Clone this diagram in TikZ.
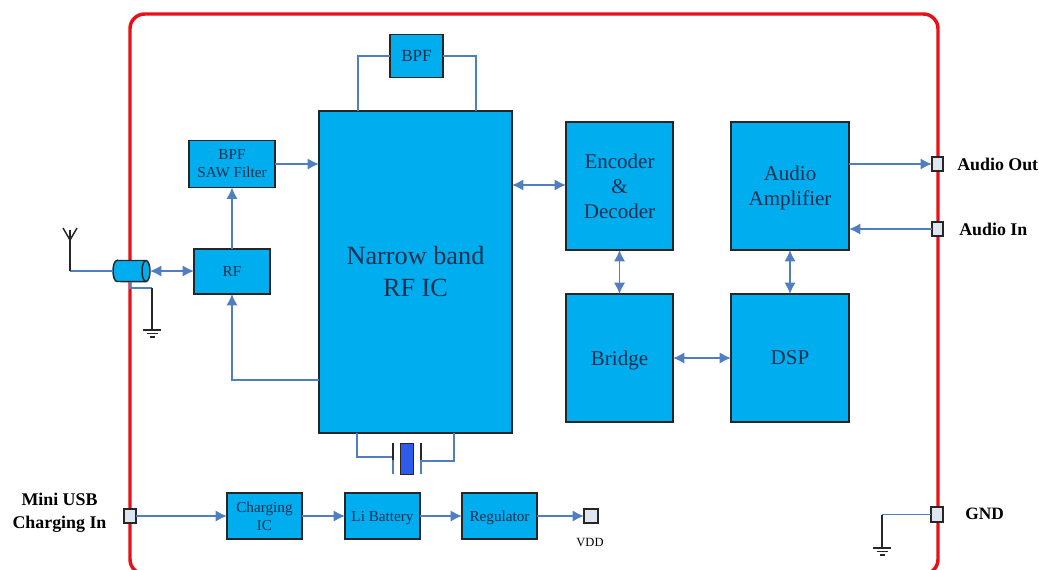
\documentclass[tikz,border=0pt]{standalone}
\usepackage{fontspec}
\setmainfont{Liberation Serif}
\usetikzlibrary{arrows.meta}
\definecolor{chipblue}{HTML}{00ADEF}
\definecolor{wireblue}{HTML}{4F7FC0}
\definecolor{textnavy}{HTML}{17304F}
\definecolor{boardred}{HTML}{E81018}
\definecolor{portgrey}{HTML}{DDE6F0}
\definecolor{xtalblue}{HTML}{2F5BEA}
\newcommand{\topfill}[1]{\rule{0pt}{#1pt}}
\tikzset{
  block/.style 2 args={draw=black!85,fill=chipblue,line width=1.1pt,text=textnavy,
    inner sep=0pt,outer sep=0pt,align=center,minimum width=#1*0.75pt,minimum height=#2*0.75pt},
  port/.style={draw=black!85,fill=portgrey,line width=1.3pt,inner sep=0pt,outer sep=0pt,
    minimum width=8.5pt,minimum height=11pt},
  wire/.style={draw=wireblue,line width=1.4pt},
  link/.style={wire,-{Latex[length=8.5pt,width=8.5pt]}},
  dlink/.style={wire,{Latex[length=8.5pt,width=8.5pt]}-{Latex[length=8.5pt,width=8.5pt]}},
  lead/.style={draw=black!85,line width=1.1pt},
  big/.style={font=\fontsize{19.7}{24}\selectfont},
  mid/.style={font=\fontsize{15.75}{18.75}\selectfont},
  small/.style={font=\fontsize{11.4}{13.5}\selectfont},
  pinlabel/.style={font=\fontsize{13.4}{17}\selectfont\bfseries,text=black,align=center,inner sep=0pt},
  pics/earth/.style={code={
    \draw[lead] (-9,0) -- (9,0) (-5.5,3.5) -- (5.5,3.5) (-2.5,7) -- (2.5,7);
  }}
}
\begin{document}
\begin{tikzpicture}[x=0.75pt,y=-0.75pt]
  \useasboundingbox (0,0) rectangle (1039,569);
  \clip (0,0) rectangle (1039,569);
  \draw[boardred,line width=2.6pt,rounded corners=11pt] (130,14) rectangle (938,574);

  \node[block={53}{43},small] (bpf) at (416.5,56) {\fontsize{12.8}{14}\selectfont BPF};
  \node[block={86}{47},small] (saw) at (232,164) {BPF\\SAW Filter};
  \node[block={76}{45},small] (rf) at (232,271.5) {RF};
  \node[block={193}{322},big] (ic) at (415.5,272) {Narrow band\\RF IC};
  \node[block={107}{128},mid] (enc) at (619.5,186) {Encoder\\\&\\Decoder};
  \node[block={118}{128},mid] (amp) at (790,186) {\topfill{14}Audio\\Amplifier};
  \node[block={107}{128},mid] (bridge) at (619.5,358) {\topfill{14}Bridge};
  \node[block={118}{128},mid] (dsp) at (790,358) {DSP};
  \node[block={75}{46},small] (chg) at (264.5,516) {Charging\\IC};
  \node[block={75}{46},small] (bat) at (382.5,516) {\topfill{10.2}Li Battery};
  \node[block={75}{46},small] (reg) at (499.5,516) {\topfill{10.2}Regulator};

  \node[port] (aout) at (937.5,164) {};
  \node[port] (ain) at (937.5,229) {};
  \node[port] (gnd) at (937,514.5) {};
  \node[port] (usb) at (130,516) {};
  \node[port,minimum width=10.5pt,minimum height=10.5pt] (vdd) at (591,516) {};

  \node[pinlabel,anchor=west] (aoutlabel) at (957,164) {Audio Out};
  \node[pinlabel,anchor=west] (ainlabel) at (959,229) {Audio In};
  \node[pinlabel,anchor=west,font=\fontsize{13}{18}\selectfont\bfseries] (gndlabel) at (965,514) {GND};
  \node[pinlabel] (usblabel) at (59.5,513) {Mini USB\\Charging In};
  \node[font=\fontsize{9.4}{11}\selectfont] (vddlabel) at (590,542) {VDD};

  \coordinate (coaxl) at (113,271);
  \coordinate (coaxr) at (150,271);
  \draw[lead,fill=chipblue] (117,260.5) -- (146,260.5) arc (90:-90:3pt and 7.9pt)
    -- (117,281.5) arc (270:90:3pt and 7.9pt) -- cycle;
  \draw[lead] (146,260.5) arc (90:270:3pt and 7.9pt);

  \coordinate (ant) at (70,271);
  \coordinate (antbase) at (70,240);
  \coordinate (gndup) at (152,288);
  \coordinate (gnddown) at (152,330);
  \coordinate (gndleft) at (882,514.5);
  \coordinate (gndfoot) at (882,548);
  \coordinate (xtala) at (393,457);
  \coordinate (xtalb) at (421,461);
  \node[draw=black!85,fill=xtalblue,line width=1.1pt,inner sep=0pt,outer sep=0pt,
    minimum width=9.5pt,minimum height=23.5pt] (xtal) at (407,459) {};

  \draw[wire] (ic.north -| 358,0) -- (358,56) -- (bpf.west);
  \draw[wire] (bpf.east) -- (476,56) -- (ic.north -| 476,0);
  \draw[wire] (ic.south -| 357,0) -- (357,457) -- (xtala);
  \draw[wire] (xtalb) -- (454,461) -- (ic.south -| 454,0);
  \draw[wire] (393,460) -- (393,474);
  \draw[wire] (421,460) -- (421,474);
  \draw[lead] (393,443) -- (393,460);
  \draw[lead] (421,443) -- (421,460);

  \draw[link] (saw.east) -- (saw.east -| ic.west);
  \draw[link] (rf.north) -- (saw.south);
  \draw[link] (ic.west |- 0,380) -- (232,380) -- (rf.south);
  \draw[dlink] (coaxr) -- (coaxr -| rf.west);
  \draw[dlink] (ic.east |- 0,185) -- (enc.west |- 0,185);
  \draw[dlink] (enc.south) -- (bridge.north);
  \draw[dlink] (amp.south) -- (dsp.north);
  \draw[dlink] (bridge.east) -- (dsp.west);
  \draw[link] (amp.east |- aout) -- (aout.west);
  \draw[link] (ain.west) -- (amp.east |- ain);
  \draw[link] (usb.east) -- (chg.west);
  \draw[link] (chg.east) -- (bat.west);
  \draw[link] (bat.east) -- (reg.west);
  \draw[link] (reg.east) -- (vdd.west);

  \draw[wire] (ant) -- (coaxl);
  \draw[lead] (ant) -- (70,230);
  \draw[lead] (63,228) -- (antbase) -- (77,228);
  \draw[wire] (130,282) -- (gndup -| 130,0) -- (gndup);
  \draw[lead] (gndup) -- (gnddown);
  \pic at (gnddown) {earth};
  \draw[wire] (gnd.west) -- (gndleft);
  \draw[lead] (gndleft) -- (gndfoot);
  \pic at (gndfoot) {earth};
\end{tikzpicture}
\end{document}
